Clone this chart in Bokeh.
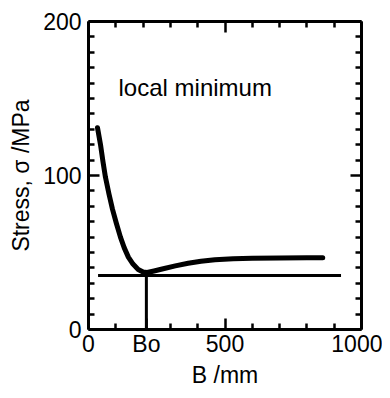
from bokeh.plotting import figure
from bokeh.models import FixedTicker, LinearAxis, Label, Range1d
from bokeh.embed import file_html
from bokeh.resources import INLINE

# Data
B_curve = [33, 44, 53, 62, 75, 88, 102, 117, 131, 146, 163, 182, 200, 215,
           240, 270, 318, 365, 412, 463, 530, 600, 700, 800, 858]
sigma_curve = [131, 120, 109, 99, 88, 78, 69, 60, 53, 47, 42.5, 39, 37.3, 37,
               38, 39.3, 41.3, 43, 44.3, 45.3, 46, 46.3, 46.5, 46.6, 46.6]
B_min_line = [35, 925]
sigma_min_line = [35, 35]
B_o = 212
x_major = [0, B_o, 500, 1000]
x_labels = {0: "0", B_o: "Bo", 500: "500", 1000: "1000"}
x_minor = [100, 300, 400, 600, 700, 800, 900]
y_major = [0, 100, 200]
y_minor = [v for v in range(10, 200, 10) if v != 100]
top_major = [0, 500, 1000]
top_minor = [100, 200, 300, 400, 600, 700, 800, 900]

FONT = "Liberation Sans"

p = figure(width=382, height=390, x_range=Range1d(0, 1000), y_range=Range1d(0, 200),
           output_backend="svg", toolbar_location=None,
           min_border_left=88, min_border_right=21, min_border_top=21, min_border_bottom=60)
p.grid.visible = False
p.outline_line_color = None
p.background_fill_color = "white"
p.border_fill_color = "white"


def style(ax, major, minor, show_labels):
    ax.ticker = FixedTicker(ticks=major, minor_ticks=minor)
    ax.axis_line_width = 3
    ax.axis_line_color = "black"
    ax.major_tick_in = 11
    ax.major_tick_out = 0
    ax.minor_tick_in = 6
    ax.minor_tick_out = 0
    ax.major_tick_line_width = 2.5
    ax.minor_tick_line_width = 2.5
    ax.major_label_text_font = FONT
    ax.major_label_text_color = "black"
    ax.major_label_text_font_size = "23px"
    if not show_labels:
        ax.major_label_overrides = {t: "" for t in major}
        ax.major_label_standoff = 0
    ax.axis_label_text_font = FONT
    ax.axis_label_text_font_style = "normal"
    ax.axis_label_text_font_size = "23px"
    ax.axis_label_text_color = "black"


style(p.xaxis[0], x_major, x_minor, True)
style(p.yaxis[0], y_major, y_minor, True)
p.xaxis[0].major_label_overrides = x_labels
p.xaxis[0].axis_label = "B /mm"
p.xaxis[0].major_label_standoff = 1
p.xaxis[0].axis_label_standoff = 2
p.yaxis[0].axis_label = "Stress, σ /MPa"
p.yaxis[0].major_label_standoff = 7
p.yaxis[0].axis_label_standoff = 6

top = LinearAxis()
style(top, top_major, top_minor, False)
p.add_layout(top, "above")
right = LinearAxis()
style(right, y_major, y_minor, False)
p.add_layout(right, "right")

p.line(B_curve, sigma_curve, line_width=5, line_color="black", line_join="round", line_cap="round")
p.line(B_min_line, sigma_min_line, line_width=3, line_color="black")
p.line([B_o, B_o], [0, sigma_min_line[0]], line_width=3, line_color="black")

p.add_layout(Label(x=110, y=157, text="local minimum", text_font=FONT, text_font_size="24px",
                   text_color="black", text_baseline="alphabetic", text_align="left"))

open("out.html", "w").write(file_html(p, INLINE))
